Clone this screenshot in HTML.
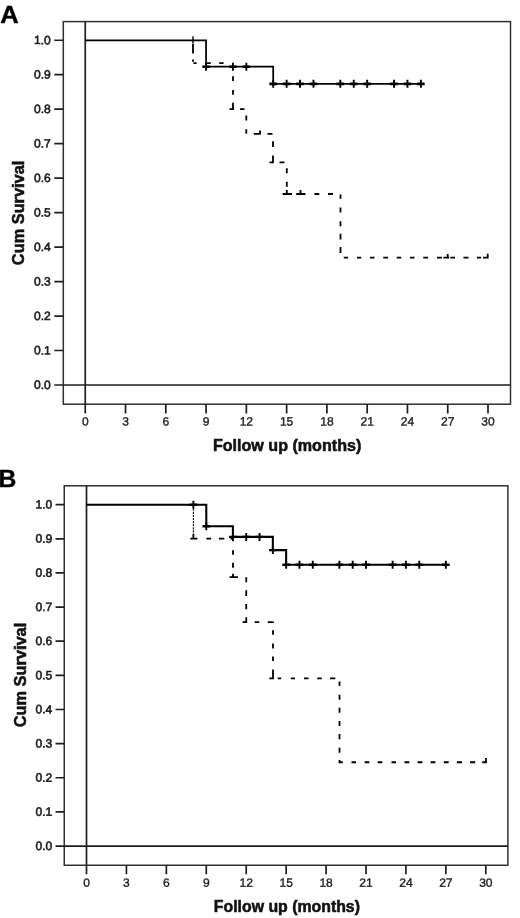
<!DOCTYPE html>
<html lang="en"><head><meta charset="utf-8"><title>Kaplan-Meier survival curves</title>
<style>html,body{margin:0;padding:0;background:#fff}body{width:520px;height:918px;overflow:hidden}svg{display:block}text{font-family:"Liberation Sans", Arial, Helvetica, sans-serif;fill:#111}.tx{font-size:12px;fill:#1c1c1c;stroke:#1c1c1c;stroke-width:0.35}.tl{font-size:12px;fill:#1c1c1c;stroke:#1c1c1c;stroke-width:0.6}.ti{font-size:16px;font-weight:bold;stroke:#111;stroke-width:0.55}.pl{font-size:24px;font-weight:bold;fill:#000;stroke:#000;stroke-width:0.4}.fr{fill:none;stroke:#303030;stroke-width:1.5}.ax{stroke:#1e1e1e;stroke-width:1.7;fill:none}.so{stroke:#000;stroke-width:1.9;fill:none}.ce{stroke:#000;stroke-width:1.9;fill:none}.ch{stroke:#000;stroke-width:2.5;fill:none}.da{stroke:#000;stroke-width:1.8;fill:none}.dt{stroke:#111;stroke-width:1.1;fill:none;stroke-dasharray:2.2 0.9}</style></head><body>
<svg width="520" height="918" viewBox="0 0 520 918">
<rect width="520" height="918" fill="#fff"/>
<g>
<rect class="fr" x="63.3" y="21.6" width="447.2" height="382.6"/>
<path class="ax" d="M85.25 21.6V413.4M54.3 385H510.5M54.3 350.52H63.3M54.3 316.05H63.3M54.3 281.57H63.3M54.3 247.1H63.3M54.3 212.62H63.3M54.3 178.15H63.3M54.3 143.68H63.3M54.3 109.2H63.3M54.3 74.72H63.3M54.3 40.25H63.3M125.53 404.2V413.4M165.8 404.2V413.4M206.07 404.2V413.4M246.35 404.2V413.4M286.62 404.2V413.4M326.9 404.2V413.4M367.18 404.2V413.4M407.45 404.2V413.4M447.73 404.2V413.4M488 404.2V413.4"/>
<text class="tl" transform="translate(50.8 388.95) rotate(0.4)" text-anchor="end">0.0</text>
<text class="tl" transform="translate(50.8 354.47) rotate(0.4)" text-anchor="end">0.1</text>
<text class="tl" transform="translate(50.8 320) rotate(0.4)" text-anchor="end">0.2</text>
<text class="tl" transform="translate(50.8 285.52) rotate(0.4)" text-anchor="end">0.3</text>
<text class="tl" transform="translate(50.8 251.05) rotate(0.4)" text-anchor="end">0.4</text>
<text class="tl" transform="translate(50.8 216.57) rotate(0.4)" text-anchor="end">0.5</text>
<text class="tl" transform="translate(50.8 182.1) rotate(0.4)" text-anchor="end">0.6</text>
<text class="tl" transform="translate(50.8 147.62) rotate(0.4)" text-anchor="end">0.7</text>
<text class="tl" transform="translate(50.8 113.15) rotate(0.4)" text-anchor="end">0.8</text>
<text class="tl" transform="translate(50.8 78.67) rotate(0.4)" text-anchor="end">0.9</text>
<text class="tl" transform="translate(50.8 44.2) rotate(0.4)" text-anchor="end">1.0</text>
<text class="tx" transform="translate(85.25 425.6) rotate(0.4)" text-anchor="middle">0</text>
<text class="tx" transform="translate(125.53 425.6) rotate(0.4)" text-anchor="middle">3</text>
<text class="tx" transform="translate(165.8 425.6) rotate(0.4)" text-anchor="middle">6</text>
<text class="tx" transform="translate(206.07 425.6) rotate(0.4)" text-anchor="middle">9</text>
<text class="tx" transform="translate(246.35 425.6) rotate(0.4)" text-anchor="middle">12</text>
<text class="tx" transform="translate(286.62 425.6) rotate(0.4)" text-anchor="middle">15</text>
<text class="tx" transform="translate(326.9 425.6) rotate(0.4)" text-anchor="middle">18</text>
<text class="tx" transform="translate(367.18 425.6) rotate(0.4)" text-anchor="middle">21</text>
<text class="tx" transform="translate(407.45 425.6) rotate(0.4)" text-anchor="middle">24</text>
<text class="tx" transform="translate(447.73 425.6) rotate(0.4)" text-anchor="middle">27</text>
<text class="tx" transform="translate(488 425.6) rotate(0.4)" text-anchor="middle">30</text>
<text class="ti" x="287.1" y="451" text-anchor="middle" style="font-size:16.1px">Follow up (months)</text>
<text class="ti" transform="translate(24.1 212.9) rotate(-90)" text-anchor="middle" style="font-size:16.35px">Cum Survival</text>
<text class="pl" transform="translate(0.2 22.5) scale(1.09 1)" style="font-size:23.4px">A</text>
<path class="so" style="stroke-width:1.75" d="M85.25 40.25L206.07 40.25L206.07 66.73L273.2 66.73L273.2 83.86L420.88 83.86"/>
<path class="ce" d="M206.07 62.73V70.73M232.93 62.73V70.73M246.35 62.73V70.73M273.2 79.86V87.86M286.62 79.86V87.86M300.05 79.86V87.86M313.48 79.86V87.86M340.33 79.86V87.86M353.75 79.86V87.86M367.18 79.86V87.86M394.03 79.86V87.86M407.45 79.86V87.86M420.88 79.86V87.86"/>
<path class="ch" style="stroke-width:2.6" d="M202.27 66.73H209.88M229.12 66.73H236.73M242.55 66.73H250.15M269.4 83.86H277M282.82 83.86H290.43M296.25 83.86H303.85M309.68 83.86H317.28M336.53 83.86H344.13M349.95 83.86H357.55M363.38 83.86H370.98M390.23 83.86H397.83M403.65 83.86H411.25M417.07 83.86H424.68"/>
<path class="da" d="M193 43.6V53.6M193 59.6V61.8M193.4 63.2H196.6M206.8 63.2H210.8M219.2 63.2H223.6M233 76.25V81M233 90V94.8M233 102.8V110M229.5 109.2H233.9M240 109.2H244.5M246.3 115.6V120.4M246.3 129.2V133.8M253.75 133.8H260.7M267.5 133.8H272.5M260 130.5V134.5M273 141.25V147M273 155.5V163M269.5 162.3H273.9M279.5 162.3H284.5M286.8 168.3V173.3M286.8 181.8V186.8M286.8 190V194.8M282.6 194H292M296.2 194H305.5M314.5 194H319.3M328 194H333M300.5 190V194.8M340.5 194.5V198.75M340.5 207.5V212.5M340.5 221.25V226.25M340.5 233.75V239.5M340.5 247V253M343.75 257.7H348M357 257.7H361.25M370 257.7H374.5M383.25 257.7H388M396.75 257.7H401.25M410 257.7H414.5M423.25 257.7H428M437 257.7H442M443.4 257.7H449.2M450.3 257.7H455M463.5 257.7H468.5M476.9 257.7H481.2M483 257.7H488.6M447.7 254V258.4M487.7 253.7V258.6"/>
<path d="M193 36.2V43" stroke="#000" stroke-width="1.4" fill="none"/>
</g>
<g>
<rect class="fr" x="64.25" y="485.8" width="443.65" height="379.45"/>
<path class="ax" d="M86.5 485.8V874.15M55.55 846.05H507.9M55.55 811.91H64.25M55.55 777.77H64.25M55.55 743.63H64.25M55.55 709.49H64.25M55.55 675.35H64.25M55.55 641.21H64.25M55.55 607.07H64.25M55.55 572.93H64.25M55.55 538.79H64.25M55.55 504.65H64.25M126.43 865.25V874.15M166.36 865.25V874.15M206.29 865.25V874.15M246.22 865.25V874.15M286.15 865.25V874.15M326.08 865.25V874.15M366.01 865.25V874.15M405.94 865.25V874.15M445.87 865.25V874.15M485.8 865.25V874.15"/>
<text class="tl" transform="translate(52.2 850) rotate(0.4)" text-anchor="end">0.0</text>
<text class="tl" transform="translate(52.2 815.86) rotate(0.4)" text-anchor="end">0.1</text>
<text class="tl" transform="translate(52.2 781.72) rotate(0.4)" text-anchor="end">0.2</text>
<text class="tl" transform="translate(52.2 747.58) rotate(0.4)" text-anchor="end">0.3</text>
<text class="tl" transform="translate(52.2 713.44) rotate(0.4)" text-anchor="end">0.4</text>
<text class="tl" transform="translate(52.2 679.3) rotate(0.4)" text-anchor="end">0.5</text>
<text class="tl" transform="translate(52.2 645.16) rotate(0.4)" text-anchor="end">0.6</text>
<text class="tl" transform="translate(52.2 611.02) rotate(0.4)" text-anchor="end">0.7</text>
<text class="tl" transform="translate(52.2 576.88) rotate(0.4)" text-anchor="end">0.8</text>
<text class="tl" transform="translate(52.2 542.74) rotate(0.4)" text-anchor="end">0.9</text>
<text class="tl" transform="translate(52.2 508.6) rotate(0.4)" text-anchor="end">1.0</text>
<text class="tx" transform="translate(86.5 886.8) rotate(0.4)" text-anchor="middle">0</text>
<text class="tx" transform="translate(126.43 886.8) rotate(0.4)" text-anchor="middle">3</text>
<text class="tx" transform="translate(166.36 886.8) rotate(0.4)" text-anchor="middle">6</text>
<text class="tx" transform="translate(206.29 886.8) rotate(0.4)" text-anchor="middle">9</text>
<text class="tx" transform="translate(246.22 886.8) rotate(0.4)" text-anchor="middle">12</text>
<text class="tx" transform="translate(286.15 886.8) rotate(0.4)" text-anchor="middle">15</text>
<text class="tx" transform="translate(326.08 886.8) rotate(0.4)" text-anchor="middle">18</text>
<text class="tx" transform="translate(366.01 886.8) rotate(0.4)" text-anchor="middle">21</text>
<text class="tx" transform="translate(405.94 886.8) rotate(0.4)" text-anchor="middle">24</text>
<text class="tx" transform="translate(445.87 886.8) rotate(0.4)" text-anchor="middle">27</text>
<text class="tx" transform="translate(485.8 886.8) rotate(0.4)" text-anchor="middle">30</text>
<text class="ti" x="286.9" y="911.9" text-anchor="middle" style="font-size:15.85px">Follow up (months)</text>
<text class="ti" transform="translate(25.5 675) rotate(-90)" text-anchor="middle" style="font-size:16.35px">Cum Survival</text>
<text class="pl" transform="translate(-1.5 487) scale(1.05 1)" style="font-size:23.5px">B</text>
<path class="so" style="stroke-width:2.05" d="M86.5 504.65L206.29 504.65L206.29 526.33L232.91 526.33L232.91 536.88L272.84 536.88L272.84 550.12L286.15 550.12L286.15 564.84L445.87 564.84"/>
<path class="ce" d="M193.38 500.65V508.65M206.29 522.33V530.33M232.91 532.88V540.88M246.22 532.88V540.88M259.53 532.88V540.88M272.84 546.12V554.12M286.15 560.84V568.84M299.46 560.84V568.84M312.77 560.84V568.84M339.39 560.84V568.84M352.7 560.84V568.84M366.01 560.84V568.84M392.63 560.84V568.84M405.94 560.84V568.84M419.25 560.84V568.84M445.87 560.84V568.84"/>
<path class="ch" style="stroke-width:2.45" d="M189.58 504.65H197.18M202.49 526.33H210.09M229.11 536.88H236.71M242.42 536.88H250.02M255.73 536.88H263.33M269.04 550.12H276.64M282.35 564.84H289.95M295.66 564.84H303.26M308.97 564.84H316.57M335.59 564.84H343.19M348.9 564.84H356.5M362.21 564.84H369.81M388.83 564.84H396.43M402.14 564.84H409.74M415.45 564.84H423.05M442.07 564.84H449.67"/>
<path class="da" d="M190.3 538.6H197.4M206.4 538.6H211.1M219 538.6H224.3M230.5 538.6H233M193.4 534V539.4M233 540V541.25M233 550.2V554.8M233 562.7V567.8M233 573.75V578M229.6 577.2H237.9M246.25 577.2V582.3M246.25 590.2V596M246.25 604V609.3M246.25 617.2V623.1M242.6 622.2H247.1M254.7 622.2H259.3M267.8 622.2H272.5M273 621.6V623M273 630.2V634.8M273 643.4V648.4M273 656.4V661M273 669.6V679.2M269.4 678.3H273.9M277.7 678.3H281.2M290.9 678.3H295M304 678.3H308.6M317.2 678.3H321.8M330 678.3H335.3M339.5 681.6V686.1M339.5 694.7V699.8M339.5 707.7V712.8M339.5 721V726.1M339.5 734V739.3M339.5 747.7V752.8M339.5 760V763.1M338.6 762.25H342.8M351.5 762.25H356M364.7 762.25H369.3M377.7 762.25H382.3M391.5 762.25H396M404.5 762.25H409.3M417.6 762.25H422.4M430.6 762.25H435.4M443.8 762.25H448.7M456.8 762.25H462M470 762.25H475.2M482.2 762.25H486.9M486 757.9V763.1"/>
<path class="dt" d="M193.4 505.5V534"/>
</g>
</svg></body></html>
